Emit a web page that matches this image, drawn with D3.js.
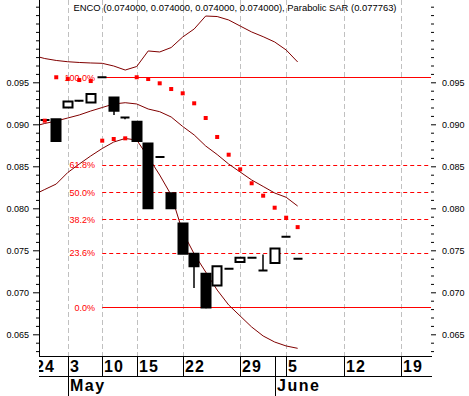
<!DOCTYPE html>
<html><head><meta charset="utf-8">
<script src="https://cdn.jsdelivr.net/npm/d3@7"></script>
<style>body{margin:0;background:#fff}svg{display:block}</style>
</head><body><svg id="c" width="469" height="396"></svg>
<script>
// ---- data ----
const title = "ENCO (0.074000, 0.074000, 0.074000, 0.074000), Parabolic SAR (0.077763)";
const slots = d3.range(0, 23);
const openV  = [0.0905,0.0906,0.0920,0.0928,0.0926,0.0956,0.0932,0.0908,0.0903,0.0877,0.0861,0.0818,0.0782,0.0746,0.0722,0.0708,0.0728,0.0736,0.0741,0.0726,0.0735,0.0766,0.0740];
const highV  = [0.0905,0.0906,0.0927,0.0928,0.0936,0.0956,0.0932,0.0908,0.0903,0.0877,0.0861,0.0818,0.0782,0.0746,0.0722,0.0731,0.0728,0.0741,0.0741,0.0745,0.0752,0.0766,0.0740];
const lowV   = [0.0905,0.0879,0.0920,0.0927,0.0926,0.0956,0.0911,0.0906,0.0880,0.0800,0.0860,0.0800,0.0746,0.0705,0.0681,0.0708,0.0728,0.0736,0.0741,0.0726,0.0735,0.0766,0.0740];
const closeV = [0.0905,0.0880,0.0927,0.0928,0.0936,0.0956,0.0916,0.0908,0.0880,0.0800,0.0861,0.0800,0.0746,0.0731,0.0682,0.0731,0.0728,0.0741,0.0741,0.0726,0.0752,0.0766,0.0740];
const sarV = [0.09043,0.09560,0.09539,0.09527,0.09515,0.08805,0.08825,0.08833,0.09560,0.09539,0.09488,0.09420,0.09369,0.09250,0.09075,0.08849,0.08638,0.08464,0.08298,0.08150,0.08007,0.07888,0.07776];
const bandSlots = d3.range(-1, 23);
const bbUpper  = [0.09819,0.09783,0.09760,0.09745,0.09736,0.09730,0.09726,0.09694,0.09646,0.09688,0.09873,0.09861,0.09914,0.10039,0.10135,0.10289,0.10283,0.10242,0.10170,0.10099,0.10043,0.09980,0.09885,0.09742];
const bbMiddle = [0.08974,0.09010,0.09039,0.09075,0.09111,0.09158,0.09200,0.09242,0.09257,0.09242,0.09182,0.09150,0.09087,0.08974,0.08873,0.08742,0.08640,0.08527,0.08432,0.08337,0.08260,0.08182,0.08131,0.08027];
const bbLower  = [0.08158,0.08224,0.08289,0.08426,0.08527,0.08623,0.08712,0.08789,0.08831,0.08813,0.08611,0.08396,0.08158,0.07718,0.07456,0.07242,0.07027,0.06849,0.06718,0.06587,0.06480,0.06408,0.06361,0.06333];
const dayTickLabels = ["24","3","10","15","22","29","5","12","19"];
const dayTickSlots  = [-1,2,5,8,12,17,21,26,31];
const monthLabels = ["May","June"];
const monthSlots  = [2,20];
const fibLevels = [100.0, 61.8, 50.0, 38.2, 23.6, 0.0];
const fibHigh = 0.0956, fibLow = 0.0682, fibStartSlot = 5;
const yMajor = [0.065,0.070,0.075,0.080,0.085,0.090,0.095];
const yMinor = d3.range(63, 105).map(d => d / 1000);

// ---- layout ----
const L = 39, R = 431, T = 0, B = 356;
const svg = d3.select("#c");
const x = d3.scaleLinear().domain([-0.5, 33.6]).range([L, R]);
const y = d3.scaleLinear().domain([0.095, 0.065]).range([82.3, 334.3]);
const axisFont = "Liberation Sans, Arial, sans-serif";

svg.append("defs").append("clipPath").attr("id","clip")
  .append("rect").attr("x",L).attr("y",T).attr("width",R-L).attr("height",B-T);
const plot = svg.append("g").attr("clip-path","url(#clip)");

// vertical gridlines
plot.append("g").selectAll("line").data(dayTickSlots.filter(s => x(s) > L)).enter().append("line")
  .attr("x1", d => Math.round(x(d))+0.5).attr("x2", d => Math.round(x(d))+0.5)
  .attr("y1", T).attr("y2", B)
  .attr("stroke","#c0c0c0").attr("stroke-width",1).attr("stroke-dasharray","5,3");

// fibonacci lines
const fibVal = p => fibLow + (fibHigh - fibLow) * p / 100;
plot.append("g").selectAll("line").data(fibLevels).enter().append("line")
  .attr("x1", x(fibStartSlot)).attr("x2", R)
  .attr("y1", d => Math.round(y(fibVal(d)))+0.5).attr("y2", d => Math.round(y(fibVal(d)))+0.5)
  .style("stroke","#ff0000").style("stroke-width","1px")
  .style("stroke-dasharray", d => (d === 0 || d === 100) ? "none" : "4,3");
svg.append("g").selectAll("text").data(fibLevels).enter().append("text")
  .attr("x", 95).attr("y", d => y(fibVal(d)) + 3.3)
  .attr("text-anchor","end").attr("fill","#ff0000")
  .attr("font-family",axisFont).attr("font-size",9)
  .text(d => d.toFixed(1) + "%");

// bollinger bands
const line = d3.line().x((d,i) => x(bandSlots[i])).y(d => y(d));
[bbUpper, bbMiddle, bbLower].forEach(arr => {
  plot.append("path").attr("d", line(arr)).attr("fill","none")
    .attr("stroke","#800000").attr("stroke-width",1);
});

// candles: wicks
plot.append("g").selectAll("line").data(slots).enter().append("line")
  .attr("x1", i => Math.round(x(i))).attr("x2", i => Math.round(x(i)))
  .attr("y1", i => y(highV[i])).attr("y2", i => y(lowV[i]))
  .attr("stroke","#000").attr("stroke-width",1.5);
// bodies
plot.append("g").selectAll("path").data(slots).enter().append("path")
  .attr("d", i => {
    const cx = Math.round(x(i));
    const y0 = y(Math.max(openV[i], closeV[i])), y1 = y(Math.min(openV[i], closeV[i]));
    return `M${cx-4.5},${y0}H${cx+4.5}V${y1}H${cx-4.5}Z`;
  })
  .attr("fill", i => closeV[i] > openV[i] ? "#fff" : "#000")
  .attr("stroke","#000").attr("stroke-width",2).attr("stroke-linejoin","miter");

// parabolic SAR
plot.append("g").selectAll("rect").data(slots).enter().append("rect")
  .attr("x", i => x(i) - 2).attr("y", i => y(sarV[i]) - 2)
  .attr("width",4).attr("height",4).attr("fill","#ff0000");

// axes
const minorVals = yMinor.filter(v => !yMajor.some(m => Math.abs(m-v)<1e-9));
const yl = d3.axisLeft(y).tickValues(yMajor).tickSize(6).tickFormat(d3.format(".3f"));
const gl = svg.append("g").attr("transform",`translate(${L},0)`).call(yl);
gl.select(".domain").remove();
gl.selectAll("text").attr("font-family",axisFont).attr("font-size",9).attr("fill","#000").attr("x",-10);
gl.selectAll(".tick line").attr("stroke","#000");
const glm = svg.append("g").attr("transform",`translate(${L},0)`).call(d3.axisLeft(y).tickValues(minorVals).tickSize(3).tickFormat(""));
glm.select(".domain").remove(); glm.selectAll(".tick line").attr("stroke","#000");

const yr = d3.axisRight(y).tickValues(yMajor).tickSize(5).tickFormat(d3.format(".3f"));
const gr = svg.append("g").attr("transform",`translate(${R},0)`).call(yr);
gr.select(".domain").remove();
gr.selectAll("text").attr("font-family",axisFont).attr("font-size",9).attr("fill","#000").attr("x",11);
gr.selectAll(".tick line").attr("stroke","#000");
const grm = svg.append("g").attr("transform",`translate(${R},0)`).call(d3.axisRight(y).tickValues(minorVals).tickSize(3).tickFormat(""));
grm.select(".domain").remove(); grm.selectAll(".tick line").attr("stroke","#000");

// axis frame lines
svg.append("line").attr("x1",L+0.5).attr("x2",L+0.5).attr("y1",T).attr("y2",B).attr("stroke","#000");
svg.append("line").attr("x1",L).attr("x2",R+1).attr("y1",B+0.5).attr("y2",B+0.5).attr("stroke","#000");
svg.append("line").attr("x1",L).attr("x2",R+1).attr("y1",376.5).attr("y2",376.5).attr("stroke","#000");

// x axis day separators and labels
svg.append("defs").append("clipPath").attr("id","clipx")
  .append("rect").attr("x",L).attr("y",B).attr("width",R-L+1).attr("height",40);
const xg = svg.append("g").attr("clip-path","url(#clipx)");
xg.append("g").selectAll("line").data(dayTickSlots).enter().append("line")
  .attr("x1", d => Math.round(x(d))+0.5).attr("x2", d => Math.round(x(d))+0.5)
  .attr("y1", B).attr("y2", 376).attr("stroke","#000");
xg.append("g").selectAll("text").data(dayTickLabels).enter().append("text")
  .attr("x", (d,i) => Math.round(x(dayTickSlots[i])) + 2).attr("y", 371.5)
  .attr("font-family",axisFont).attr("font-weight","bold").attr("font-size",16)
  .attr("letter-spacing","1px").attr("fill","#000").text(d => d);
xg.append("g").selectAll("line").data(monthSlots).enter().append("line")
  .attr("x1", d => Math.round(x(d)) + 0.5).attr("x2", d => Math.round(x(d)) + 0.5)
  .attr("y1", B).attr("y2", 396).attr("stroke","#000");
xg.append("g").selectAll("text").data(monthLabels).enter().append("text")
  .attr("x", (d,i) => Math.round(x(monthSlots[i])) + 2).attr("y", 390.5)
  .attr("font-family",axisFont).attr("font-weight","bold").attr("font-size",16)
  .attr("letter-spacing","1.5px").attr("fill","#000").text(d => d);

// title
svg.append("text").attr("x",(L+R)/2).attr("y",11).attr("text-anchor","middle")
  .attr("font-family",axisFont).attr("font-size",9.5).attr("fill","#000")
  .attr("textLength",323).attr("lengthAdjust","spacingAndGlyphs").text(title);
</script></body></html>
